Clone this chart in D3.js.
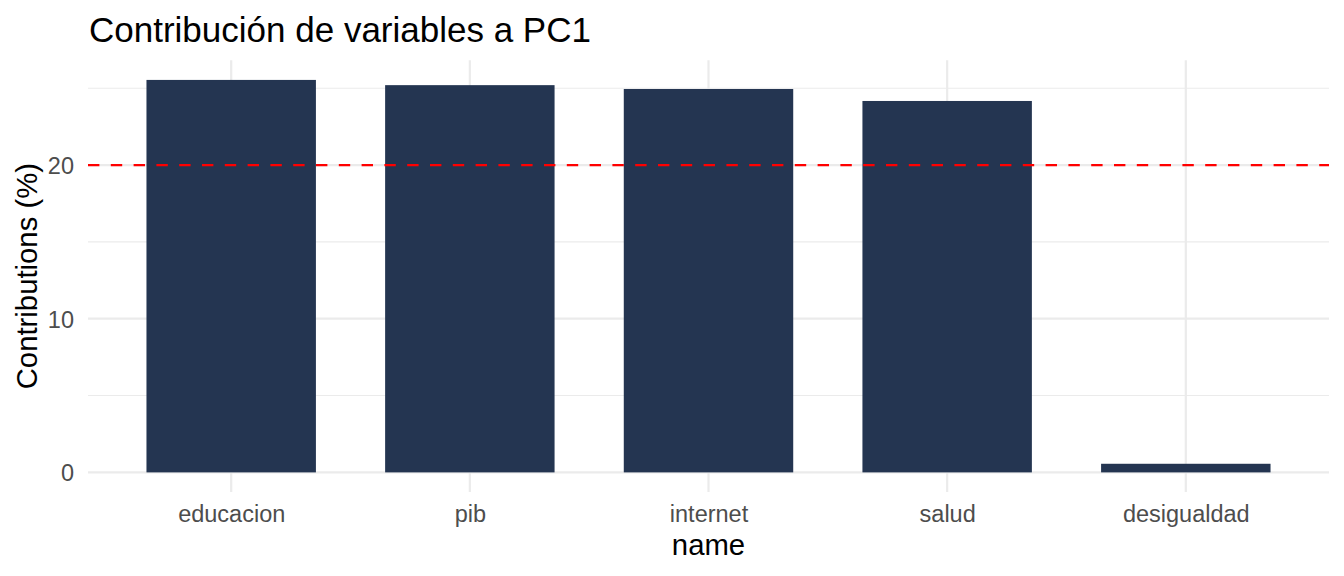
<!DOCTYPE html>
<html>
<head>
<meta charset="utf-8">
<script src="https://cdn.jsdelivr.net/npm/d3@7"></script>
<style>
  html, body { margin: 0; padding: 0; background: #fff; }
  text { font-family: "Liberation Sans", Arial, Helvetica, sans-serif; }
</style>
</head>
<body>
<svg id="chart" width="1344" height="576"></svg>
<script>
const categories = ["educacion", "pib", "internet", "salud", "desigualdad"];
const contributions = [25.54, 25.2, 24.95, 24.17, 0.56];
const yMajorTicks = [0, 10, 20];
const yMinorTicks = [5, 15, 25];
const referenceLine = 20;
const titleText = "Contribución de variables a PC1";
const xTitle = "name";
const yTitle = "Contributions (%)";

const svg = d3.select("#chart");
const panel = { left: 88, right: 1329, top: 60.3, bottom: 492 };

const maxV = d3.max(contributions);
const pad = maxV * 0.05;
const y = d3.scaleLinear().domain([-pad, maxV + pad]).range([panel.bottom, panel.top]);

// discrete scale with ggplot-like expansion (0.6 units each side)
const n = categories.length;
const step = (panel.right - panel.left) / (n - 1 + 1.2);
const xc = d3.scalePoint().domain(categories)
  .range([panel.left + 0.6 * step, panel.right - 0.6 * step]);
const barW = 0.71 * step;

const grid = svg.append("g");
// minor horizontal
grid.selectAll(".ymin").data(yMinorTicks).join("line")
  .attr("x1", panel.left).attr("x2", panel.right)
  .attr("y1", d => y(d)).attr("y2", d => y(d))
  .attr("stroke", "#EBEBEB").attr("stroke-width", 1.1);
// major horizontal
grid.selectAll(".ymaj").data(yMajorTicks).join("line")
  .attr("x1", panel.left).attr("x2", panel.right)
  .attr("y1", d => y(d)).attr("y2", d => y(d))
  .attr("stroke", "#EBEBEB").attr("stroke-width", 2.2);
// major vertical
grid.selectAll(".xmaj").data(categories).join("line")
  .attr("x1", d => xc(d)).attr("x2", d => xc(d))
  .attr("y1", panel.top).attr("y2", panel.bottom)
  .attr("stroke", "#EBEBEB").attr("stroke-width", 2.2);

// bars
svg.append("g").selectAll("rect").data(categories).join("rect")
  .attr("x", d => xc(d) - barW / 2)
  .attr("width", barW)
  .attr("y", (d, i) => y(contributions[i]))
  .attr("height", (d, i) => y(0) - y(contributions[i]))
  .attr("fill", "#243551");

// reference line
svg.append("line")
  .attr("x1", panel.left).attr("x2", panel.right)
  .attr("y1", y(referenceLine)).attr("y2", y(referenceLine))
  .attr("stroke", "#FF0000").attr("stroke-width", 2.3)
  .attr("stroke-dasharray", "11.4,11.4");

// y axis labels
const yAxis = d3.axisLeft(y).tickValues(yMajorTicks).tickSize(0).tickPadding(0).tickFormat(d3.format("d"));
const yg = svg.append("g").attr("transform", `translate(${panel.left - 14},0)`).call(yAxis);
yg.select(".domain").remove();
yg.selectAll("text").attr("fill", "#4D4D4D").style("font-size", "23.5px")
  .attr("font-family", "Liberation Sans, Arial, sans-serif").attr("dy", "0.36em");

// x axis labels
const xAxis = d3.axisBottom(xc).tickSize(0).tickPadding(0);
const xg = svg.append("g").attr("transform", `translate(0,${panel.bottom})`).call(xAxis);
xg.select(".domain").remove();
xg.selectAll("text").attr("fill", "#4D4D4D").style("font-size", "23.5px")
  .attr("font-family", "Liberation Sans, Arial, sans-serif")
  .attr("dy", null).attr("y", 29.7);

// axis titles
svg.append("text").attr("x", (panel.left + panel.right) / 2).attr("y", 555)
  .attr("text-anchor", "middle").attr("fill", "#000").style("font-size", "29.3px")
  .text(xTitle);
svg.append("text")
  .attr("transform", `translate(37,${(panel.top + panel.bottom) / 2}) rotate(-90)`)
  .attr("text-anchor", "middle").attr("fill", "#000").style("font-size", "29.3px")
  .text(yTitle);

// title
svg.append("text").attr("x", 89).attr("y", 42)
  .attr("fill", "#000").style("font-size", "35px")
  .text(titleText);
</script>
</body>
</html>
